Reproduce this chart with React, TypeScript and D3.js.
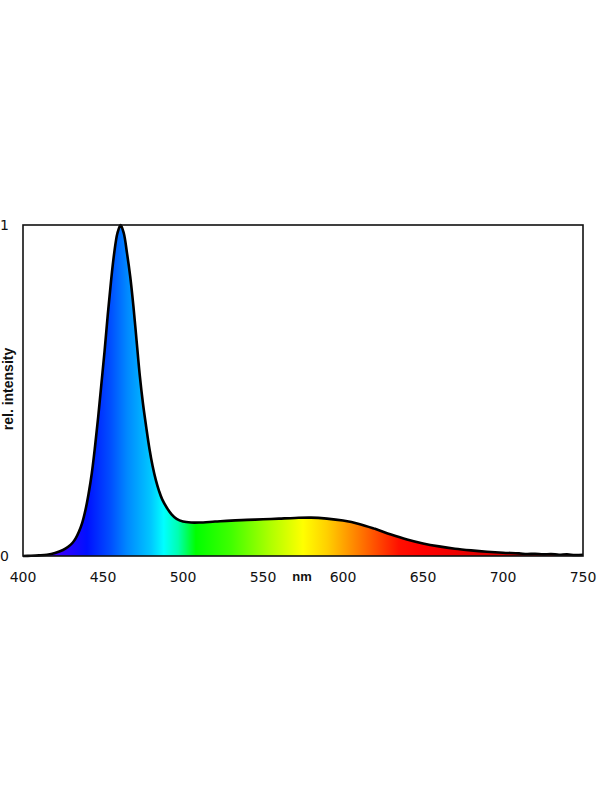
import React from "react";
import * as d3 from "d3";

const wavelengths = [
  400, 405, 410, 415, 420, 425, 428, 431, 433, 435, 437, 439, 441, 443, 445, 447, 449, 451, 453, 455,
  457, 459, 461, 463, 465, 467, 469, 471, 473, 475, 477, 479, 481, 483, 485, 487, 490, 493, 496, 500,
  505, 510, 520, 530, 540, 550, 560, 570, 580, 590, 600, 610, 620, 630, 640, 650, 660, 670, 680, 690,
  700, 710, 715, 720, 725, 730, 735, 740, 745, 750,
];
const intensity = [
  0, 0.0008, 0.002, 0.004, 0.009, 0.018, 0.027, 0.04, 0.054, 0.074, 0.1, 0.138, 0.188, 0.25, 0.33, 0.42, 0.52, 0.62, 0.73, 0.83,
  0.915, 0.975, 1.0, 0.975, 0.915, 0.845, 0.755, 0.65, 0.545, 0.46, 0.39, 0.325, 0.272, 0.23, 0.197, 0.171, 0.145, 0.125, 0.112, 0.104,
  0.101, 0.101, 0.104, 0.107, 0.109, 0.111, 0.113, 0.115, 0.116, 0.113, 0.107, 0.097, 0.082, 0.065, 0.05, 0.038, 0.029, 0.022, 0.017, 0.013,
  0.01, 0.008, 0.006, 0.007, 0.005, 0.006, 0.004, 0.005, 0.003, 0.004,
];

const xTicks = [400, 450, 500, 550, 600, 650, 700, 750];
const yTicks = [0, 1];

const gradientNm = [400, 410, 425, 440, 455, 465, 480, 488, 497, 508, 530, 555, 575, 590, 605, 620, 635, 650, 700, 750];
const gradientColors = [
  "#6000ff", "#5a00ff", "#3000ff", "#0010ff", "#0050ff", "#0088ff", "#00c8ff", "#00ffff", "#00ffb0", "#00ff00",
  "#40ff00", "#b0ff00", "#ffff00", "#ffd000", "#ff9000", "#ff5000", "#ff1000", "#ff0000", "#d80000", "#b00000",
];

export default function App() {
  const left = 23, right = 583, top = 225, bottom = 556;
  const x = d3.scaleLinear().domain([400, 750]).range([left, right]);
  const y = d3.scaleLinear().domain([0, 1]).range([bottom, top]);
  const pts: [number, number][] = wavelengths.map((w, i) => [w, intensity[i]]);
  const curve = d3.curveCatmullRom.alpha(0.5);
  const area = d3
    .area<[number, number]>()
    .x((d) => x(d[0]))
    .y0(y(0))
    .y1((d) => y(d[1]))
    .curve(curve);
  const line = d3
    .line<[number, number]>()
    .x((d) => x(d[0]))
    .y((d) => y(d[1]))
    .curve(curve);

  return (
    <svg
      width={600}
      height={800}
      style={{ position: "absolute", left: 0, top: 0, background: "#fff" }}
      fontFamily="DejaVu Sans, sans-serif"
    >
      <defs>
        <linearGradient id="spec" gradientUnits="userSpaceOnUse" x1={x(400)} x2={x(750)} y1={0} y2={0}>
          {gradientNm.map((nm, i) => (
            <stop key={i} offset={(nm - 400) / 350} stopColor={gradientColors[i]} />
          ))}
        </linearGradient>
      </defs>
      <rect x={0} y={0} width={600} height={800} fill="#fff" />
      <path d={area(pts) || ""} fill="url(#spec)" />
      <path d={line(pts) || ""} fill="none" stroke="#000" strokeWidth={2.6} strokeLinejoin="round" />
      <rect x={left} y={top} width={right - left} height={bottom - top} fill="none" stroke="#111" strokeWidth={1.6} />
      {xTicks.map((t) => (
        <text key={t} x={x(t)} y={582} textAnchor="middle" fontSize={14} fill="#111">
          {t}
        </text>
      ))}
      {yTicks.map((t) => (
        <text key={t} x={9} y={y(t) + 5} textAnchor="end" fontSize={14} fill="#111">
          {t}
        </text>
      ))}
      <text x={302} y={581} textAnchor="middle" fontSize={13} fontWeight="bold" fontFamily="Liberation Sans, Arial, sans-serif" fill="#111">
        nm
      </text>
      <text
        transform={`translate(13, 389) rotate(-90)`}
        textAnchor="middle"
        fontSize={14}
        fontWeight="bold"
        fontFamily="Liberation Sans, Arial, sans-serif"
        fill="#111"
      >
        rel. intensity
      </text>
    </svg>
  );
}
